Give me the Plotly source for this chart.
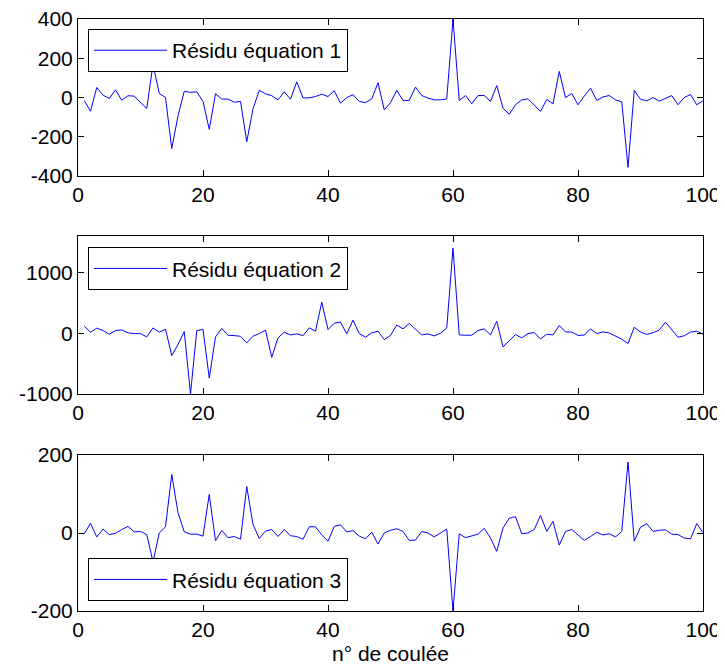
import plotly.graph_objects as go

# ---- data ----
coulee = list(range(1, 101))

residu1 = [-15, -70, 51, 12, -5, 39, -14, 9, 7, -22,
           -56, 170, 20, 0, -260, -94, 32, 26, 29, -20,
           -162, 19, -8, -8, -24, -20, -225, -58, 36, 19,
           9, -12, 29, -9, 80, -2, -2, 5, 17, 5,
           34, -29, 0, 14, -20, -26, -7, 75, -63, -26,
           36, -15, -15, 53, 10, -3, -12, -12, -7, 400,
           -15, 10, -32, 10, 10, -20, 61, -54, -85, -37,
           -12, -7, -39, -71, -10, -32, 133, 0, 20, -37,
           7, 48, -15, 3, 10, -12, -22, -356, 36, -9,
           -17, 0, -19, -5, 10, -37, 0, 15, -37, -17]

residu2 = [116, 17, 83, 44, -17, 44, 55, 6, -6, -6,
           -61, 88, 17, 66, -369, -187, 28, -1000, 44, 61,
           -738, -61, 77, -33, -39, -50, -160, -50, -6, 50,
           -397, -77, 17, -28, -11, -39, 88, 33, 512, 61,
           165, 182, -11, 215, -6, -66, 6, 33, -105, -36,
           135, 72, 160, 61, -28, -11, -44, 0, 88, 1400,
           -28, -33, -33, 44, 72, -28, 198, -226, -116, -22,
           -77, -6, 11, -94, -17, -28, 127, 22, 17, -36,
           -30, 70, -6, 22, 3, -47, -97, -171, 99, 20,
           -20, 8, 52, 182, 58, -66, -42, 20, 33, -14]

residu3 = [-2, 25, -10, 10, -4, -1, 9, 17, 3, 4,
           -4, -74, 0, 16, 150, 52, 3, -3, -3, -8,
           99, -20, 7, -12, -9, -16, 119, 22, -14, 5,
           9, -9, 9, -7, -9, -16, 16, 16, -5, -21,
           17, 21, 3, 6, -8, -15, 2, -28, 0, 7,
           11, 4, -19, -18, 4, 0, -10, 1, 10, -200,
           -2, -12, -7, -3, 12, -13, -47, 13, 38, 42,
           -2, 0, 9, 45, 4, 30, -31, 4, 9, -4,
           -19, -9, 2, -5, -2, -10, 4, 182, -21, 15,
           24, 4, 7, 8, -3, -4, -13, -15, 24, 1]

noms = ["Résidu équation 1", "Résidu équation 2", "Résidu équation 3"]

x_ticks = [0, 20, 40, 60, 80, 100]
y1_ticks = [-400, -200, 0, 200, 400]
y2_ticks = [-1000, 0, 1000]
y3_ticks = [-200, 0, 200]
y1_range = [-400, 400]
y2_range = [-1000, 1600]
y3_range = [-200, 200]

FONT = "Liberation Sans, Arial, Helvetica, sans-serif"

fig = go.Figure()
series = [residu1, residu2, residu3]
for i, (vals, nom) in enumerate(zip(series, noms)):
    k = "" if i == 0 else str(i + 1)
    fig.add_trace(go.Scatter(
        x=coulee, y=vals, mode="lines", name=nom,
        line=dict(color="#0000ff", width=1),
        xaxis="x" + k, yaxis="y" + k,
        legend="legend" + k,
        showlegend=True,
    ))

def lab(v):
    return [str(t) for t in v]

axis_common = dict(
    showline=True, linecolor="black", linewidth=1, mirror="ticks",
    ticks="inside", ticklen=6, tickcolor="black", tickwidth=1,
    showgrid=False, zeroline=False, automargin=False,
    ticklabeloverflow="allow",
    tickfont=dict(family=FONT, size=21, color="black"),
)

domains = [[0.7348, 1.0], [0.3666, 0.6334], [0.0, 0.2635]]
yticks = [y1_ticks, y2_ticks, y3_ticks]
yranges = [y1_range, y2_range, y3_range]

layout = dict(
    width=725, height=666,
    margin=dict(l=70, r=30, t=11, b=63, autoexpand=False),
    paper_bgcolor="white", plot_bgcolor="white",
    font=dict(family=FONT, size=21, color="black"),
)

for i in range(3):
    k = "" if i == 0 else str(i + 1)
    xa = dict(axis_common, range=[0, 100], tickvals=x_ticks, ticktext=lab(x_ticks),
              domain=[0, 1], anchor="y" + k)
    ya = dict(axis_common, range=yranges[i], tickvals=yticks[i], ticktext=lab(yticks[i]),
              domain=domains[i], anchor="x" + k)
    if i == 2:
        xa["title"] = dict(text="n° de coulée", font=dict(family=FONT, size=21, color="black"),
                           standoff=6)
    layout["xaxis" + k] = xa
    layout["yaxis" + k] = ya

leg_common = dict(
    bgcolor="white", bordercolor="black", borderwidth=1,
    font=dict(family=FONT, size=21, color="black"),
    xanchor="left", x=0.016, itemwidth=73,
)
layout["legend"] = dict(leg_common, yanchor="top", y=0.983)
layout["legend2"] = dict(leg_common, yanchor="top", y=0.6144)
layout["legend3"] = dict(leg_common, yanchor="bottom", y=0.0164)

fig.update_layout(**layout)
fig.write_html("out.html")
